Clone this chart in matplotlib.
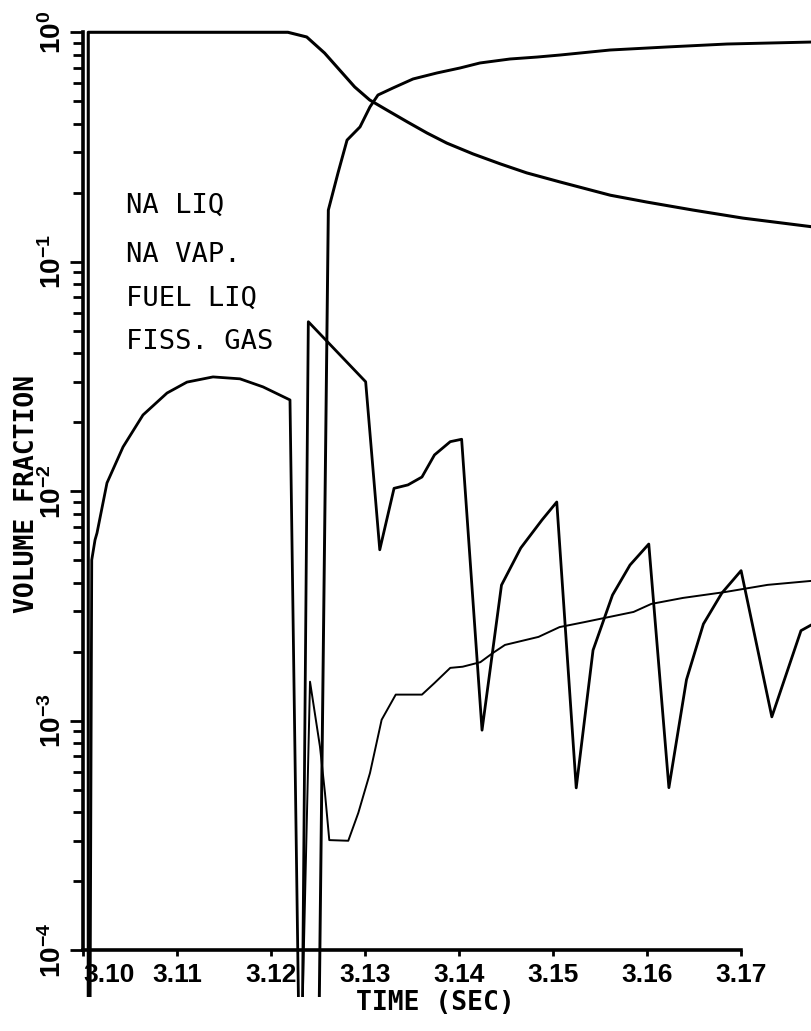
import numpy as np
import matplotlib
matplotlib.use("Agg")
import matplotlib.pyplot as plt
from matplotlib.ticker import FixedLocator, NullFormatter

# ---------------- data (time in s, volume fraction) -------------
# values of 1e-5 stand for "below the bottom of the scale"
na_liq_t = [3.10056, 3.10056, 3.1218, 3.1238, 3.1257, 3.1273, 3.1289, 3.1305, 3.1323,
            3.1345, 3.1366, 3.1387, 3.1415, 3.1444, 3.1472, 3.1507, 3.1561, 3.1600,
            3.1649, 3.1702, 3.1776]
na_liq_v = [1e-5, 1.0, 1.0, 0.954, 0.812, 0.685, 0.578, 0.507, 0.459,
            0.407, 0.364, 0.329, 0.295, 0.267, 0.244, 0.223, 0.195, 0.182,
            0.168, 0.155, 0.142]

na_vap_t = [3.12492, 3.12610, 3.12713, 3.12809, 3.12947, 3.13053, 3.13138, 3.13298,
            3.13511, 3.13766, 3.14011, 3.14223, 3.14543, 3.14830, 3.15074, 3.15606,
            3.16213, 3.16851, 3.17755]
na_vap_v = [1e-5, 0.168, 0.244, 0.339, 0.387, 0.473, 0.533, 0.572,
            0.626, 0.665, 0.699, 0.735, 0.765, 0.780, 0.796, 0.837,
            0.863, 0.889, 0.907]

fuel_liq_t = [3.10069, 3.10093, 3.10128, 3.10149, 3.10255, 3.10426, 3.10638, 3.10894,
              3.11106, 3.11383, 3.11670, 3.11915, 3.12202, 3.12319, 3.12397, 3.13007,
              3.13157, 3.13309, 3.13457, 3.13606, 3.13739, 3.13907, 3.14028, 3.14245,
              3.14452, 3.14657, 3.14883, 3.15040, 3.15247, 3.15426, 3.15633, 3.15819,
              3.16019, 3.16233, 3.16420, 3.16600, 3.16796, 3.17001, 3.17328, 3.17638,
              3.17751]
fuel_liq_v = [1e-5, 5.02e-3, 6.14e-3, 6.58e-3, 1.087e-2, 1.56e-2, 2.15e-2, 2.68e-2,
              2.99e-2, 3.15e-2, 3.09e-2, 2.85e-2, 2.50e-2, 1e-5, 5.48e-2, 3.0e-2,
              5.56e-3, 1.03e-2, 1.066e-2, 1.154e-2, 1.44e-2, 1.645e-2, 1.685e-2, 9.1e-4,
              3.9e-3, 5.66e-3, 7.5e-3, 8.98e-3, 5.1e-4, 2.03e-3, 3.53e-3, 4.77e-3,
              5.89e-3, 5.11e-4, 1.51e-3, 2.64e-3, 3.6e-3, 4.51e-3, 1.04e-3, 2.47e-3,
              2.62e-3]

fiss_gas_t = [3.12293, 3.12415, 3.12521, 3.12574, 3.12620, 3.12822, 3.12929, 3.13053,
              3.13177, 3.13327, 3.13606, 3.13739, 3.13907, 3.14039, 3.14227, 3.14357,
              3.14489, 3.14846, 3.15070, 3.15333, 3.15857, 3.16046, 3.16383, 3.16833,
              3.17283, 3.17751]
fiss_gas_v = [1e-5, 1.48e-3, 7.71e-4, 4.85e-4, 3.02e-4, 3.0e-4, 3.97e-4, 5.92e-4,
              1.01e-3, 1.30e-3, 1.30e-3, 1.46e-3, 1.70e-3, 1.72e-3, 1.80e-3, 1.97e-3,
              2.14e-3, 2.32e-3, 2.56e-3, 2.69e-3, 2.98e-3, 3.23e-3, 3.43e-3, 3.64e-3,
              3.91e-3, 4.07e-3]

legend_labels = ["NA LIQ", "NA VAP.", "FUEL LIQ", "FISS. GAS"]
x_ticks = [3.10, 3.11, 3.12, 3.13, 3.14, 3.15, 3.16, 3.17]
x_ticklabels = ["3.10", "3.11", "3.12", "3.13", "3.14", "3.15", "3.16", "3.17"]
y_ticks = [1e-4, 1e-3, 1e-2, 1e-1, 1e0]
y_ticklabels = [r"$\mathbf{10^{-4}}$", r"$\mathbf{10^{-3}}$", r"$\mathbf{10^{-2}}$",
                r"$\mathbf{10^{-1}}$", r"$\mathbf{10^{0}}$"]

# ---------------- fonts ---------------------------------------------------------
plt.rcParams["mathtext.fontset"] = "custom"
plt.rcParams["mathtext.bf"] = "Liberation Sans:bold"
plt.rcParams["mathtext.rm"] = "Liberation Sans"

# ---------------- figure ----------------------------------------------------------
fig = plt.figure(figsize=(8.12, 10.31), dpi=100)
ax = fig.add_axes([83 / 812, (1031 - 997.3) / 1031, 729 / 812, 969.6 / 1031])
ax.set_yscale("log")

ax.plot(na_liq_t, na_liq_v, color="black", lw=2.2, solid_joinstyle="round")
ax.plot(na_vap_t, na_vap_v, color="black", lw=2.1, solid_joinstyle="round")
ax.plot(fuel_liq_t, fuel_liq_v, color="black", lw=2.0, solid_joinstyle="round")
ax.plot(fiss_gas_t, fiss_gas_v, color="black", lw=1.4, solid_joinstyle="round")

ax.set_xlim(3.10, 3.10 + 729 / 9400)
ax.set_ylim(10 ** -4.205, 10 ** 0.02)

ax.spines["top"].set_visible(False)
ax.spines["right"].set_visible(False)
ax.spines["bottom"].set_position(("data", 1e-4))
ax.spines["bottom"].set_bounds(3.10, 3.17)
ax.spines["left"].set_bounds(1e-4, 1.0)
ax.spines["bottom"].set_linewidth(2.6)
ax.spines["left"].set_linewidth(2.6)

# x axis
ax.set_xticks(x_ticks)
ax.set_xticklabels(x_ticklabels, fontfamily="Liberation Sans", fontweight="bold",
                   fontsize=19)
ax.tick_params(axis="x", direction="out", length=4.5, width=2.0, pad=5)
ax.get_xticklabels()[0].set_ha("left")

# y axis
minor = [m * 10.0 ** e for e in range(-4, 0) for m in range(2, 10)]
ax.yaxis.set_major_locator(FixedLocator(y_ticks))
ax.yaxis.set_minor_locator(FixedLocator(minor))
ax.yaxis.set_minor_formatter(NullFormatter())
ax.set_yticklabels(y_ticklabels, fontsize=20, rotation=90, va="center")
ax.tick_params(axis="y", which="major", direction="out", length=9.5, width=2.0, pad=2)
ax.tick_params(axis="y", which="minor", direction="out", length=7, width=2.0)

ax.set_ylabel("VOLUME FRACTION", fontfamily="DejaVu Sans Mono", fontweight="bold",
              fontsize=19)
ax.yaxis.set_label_coords((40 - 83) / 729, (997.3 - 494) / 969.6)
ax.set_xlabel("TIME (SEC)", fontfamily="DejaVu Sans Mono", fontweight="bold", fontsize=19)
ax.xaxis.set_label_coords((435 - 83) / 729, (997.3 - 990) / 969.6)

# legend block (text only, as in the original)
for lab, yc in zip(legend_labels, [207, 256, 300, 343]):
    fig.text(126 / 812, 1 - (yc - 1) / 1031, lab, fontfamily="DejaVu Sans Mono",
             fontsize=19.5, ha="left", va="center")

fig.savefig("out.png", dpi=100)
